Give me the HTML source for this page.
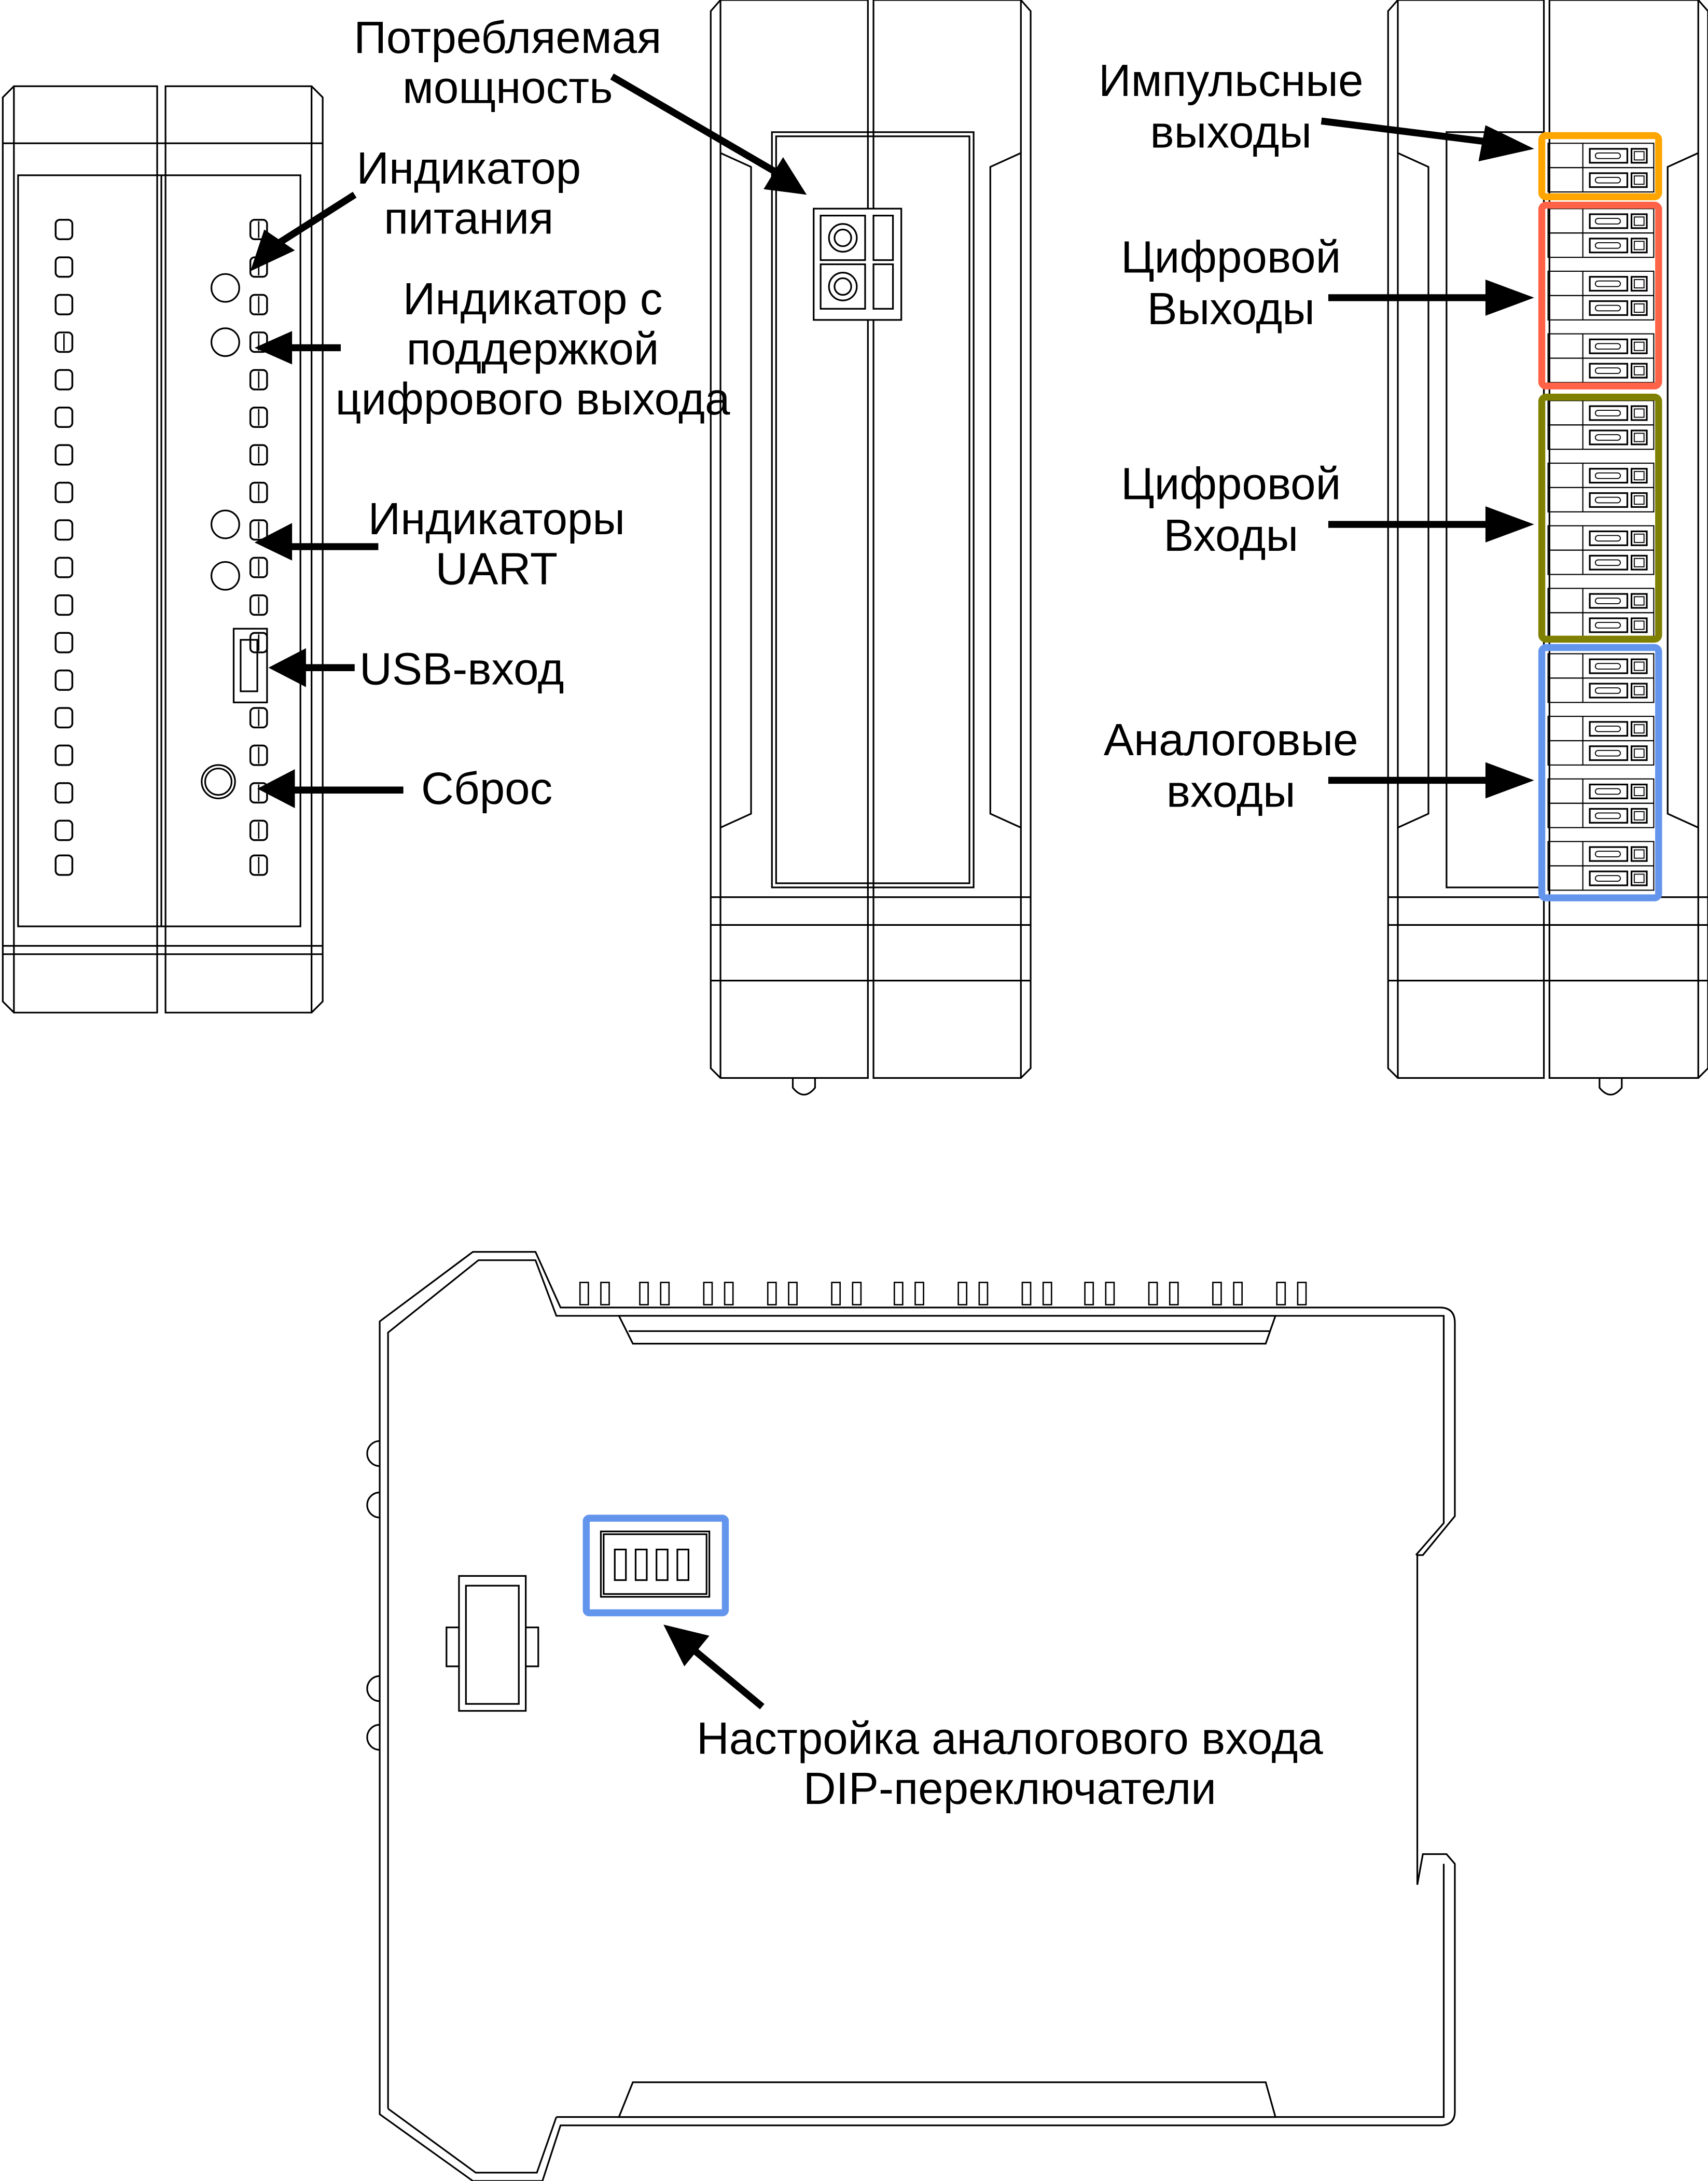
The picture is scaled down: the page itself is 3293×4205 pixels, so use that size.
<!DOCTYPE html>
<html><head><meta charset="utf-8"><style>
html,body{margin:0;padding:0;background:#fff;}
svg{display:block}
text{font-family:"Liberation Sans","DejaVu Sans",sans-serif;fill:#000;}
</style></head><body>
<svg width="3293" height="4205" viewBox="0 0 1228 1568" preserveAspectRatio="none" xmlns="http://www.w3.org/2000/svg">
<defs>
<g id="led"><rect x="0" y="0" width="12" height="14" rx="3" fill="none" stroke="#000" stroke-width="1.3"/></g>
<g id="led2"><rect x="0" y="0" width="12" height="14" rx="3" fill="none" stroke="#000" stroke-width="1.3"/><line x1="6" y1="1" x2="6" y2="13" stroke="#000" stroke-width="1"/></g>
<g id="term">
  <rect x="0" y="0" width="76" height="17.5" fill="none" stroke="#000" stroke-width="0.8"/>
  <line x1="25" y1="0" x2="25" y2="17.5" stroke="#000" stroke-width="0.8"/>
  <rect x="30" y="4" width="27" height="10" fill="none" stroke="#000" stroke-width="1.2"/>
  <rect x="34" y="7" width="18" height="4" rx="2" fill="none" stroke="#000" stroke-width="0.7"/>
  <rect x="60" y="4" width="11" height="10" fill="none" stroke="#000" stroke-width="1.2"/>
  <rect x="62" y="6" width="7" height="6" fill="none" stroke="#000" stroke-width="0.7"/>
</g>
</defs>
<rect width="1228" height="1568" fill="#fff"/>

<!-- ============ LEFT DEVICE ============ -->
<g fill="none" stroke="#000" stroke-width="1.2">
  <path d="M2 70 L10 62 L113 62 L113 728 L10 728 L2 720 Z"/>
  <path d="M119 62 L224 62 L232 70 L232 720 L224 728 L119 728 Z"/>
  <line x1="2" y1="103" x2="232" y2="103"/>
  <line x1="10" y1="62" x2="10" y2="728"/>
  <line x1="224" y1="62" x2="224" y2="728"/>
  <rect x="13" y="126" width="203" height="540"/>
  <line x1="116" y1="126" x2="116" y2="666"/>
  <line x1="2" y1="680" x2="232" y2="680"/>
  <line x1="2" y1="686" x2="232" y2="686"/>
  <circle cx="162" cy="207" r="10"/>
  <circle cx="162" cy="246" r="10"/>
  <circle cx="162" cy="377" r="10"/>
  <circle cx="162" cy="414" r="10"/>
  <circle cx="157" cy="562" r="12"/>
  <circle cx="157" cy="562" r="9.5"/>
  <rect x="168" y="452" width="24" height="53"/>
  <rect x="173" y="460" width="12" height="37"/>
</g>
<g>
  <use href="#led" x="40" y="158"/><use href="#led" x="40" y="185"/><use href="#led" x="40" y="212"/>
  <use href="#led2" x="40" y="239"/><use href="#led" x="40" y="266"/><use href="#led" x="40" y="293"/>
  <use href="#led" x="40" y="320"/><use href="#led" x="40" y="347"/><use href="#led" x="40" y="374"/>
  <use href="#led" x="40" y="401"/><use href="#led" x="40" y="428"/><use href="#led" x="40" y="455"/>
  <use href="#led" x="40" y="482"/><use href="#led" x="40" y="509"/><use href="#led" x="40" y="536"/>
  <use href="#led" x="40" y="563"/><use href="#led" x="40" y="590"/><use href="#led" x="40" y="615"/>
  <use href="#led2" x="180" y="158"/><use href="#led2" x="180" y="185"/><use href="#led2" x="180" y="212"/>
  <use href="#led2" x="180" y="239"/><use href="#led2" x="180" y="266"/><use href="#led2" x="180" y="293"/>
  <use href="#led2" x="180" y="320"/><use href="#led2" x="180" y="347"/><use href="#led2" x="180" y="374"/>
  <use href="#led2" x="180" y="401"/><use href="#led2" x="180" y="428"/><use href="#led2" x="180" y="455"/>
  <use href="#led2" x="180" y="509"/><use href="#led2" x="180" y="536"/>
  <use href="#led2" x="180" y="563"/><use href="#led2" x="180" y="590"/><use href="#led2" x="180" y="615"/>
</g>
<!-- left arrows -->
<g stroke="#000" stroke-width="5" fill="#000">
  <line x1="255" y1="140" x2="200" y2="175"/>
  <polygon points="180,195 190,165 212,180" stroke="none"/>
  <line x1="245" y1="250" x2="205" y2="250"/>
  <polygon points="183,250 210,238 210,262" stroke="none"/>
  <line x1="272" y1="393" x2="205" y2="393"/>
  <polygon points="183,390 210,376 210,403" stroke="none"/>
  <line x1="255" y1="480" x2="215" y2="480"/>
  <polygon points="193,480 220,466 220,494" stroke="none"/>
  <line x1="290" y1="568" x2="210" y2="568"/>
  <polygon points="185,567 212,553 212,581" stroke="none"/>
</g>
<g font-size="32.5" text-anchor="middle">
  <text x="337" y="132">Индикатор</text>
  <text x="337" y="168">питания</text>
  <text x="383" y="226">Индикатор с</text>
  <text x="383" y="262">поддержкой</text>
  <text x="383" y="298">цифрового выхода</text>
  <text x="357" y="384">Индикаторы</text>
  <text x="357" y="420">UART</text>
  <text x="332" y="492">USB-вход</text>
  <text x="350" y="578">Сброс</text>
  <text x="365" y="38">Потребляемая</text>
  <text x="365" y="74">мощность</text>
  <text x="885" y="69">Импульсные</text>
  <text x="885" y="106">выходы</text>
  <text x="885" y="196">Цифровой</text>
  <text x="885" y="233">Выходы</text>
  <text x="885" y="359">Цифровой</text>
  <text x="885" y="396">Входы</text>
  <text x="885" y="543">Аналоговые</text>
  <text x="885" y="580">входы</text>
  <text x="726" y="1261">Настройка аналогового входа</text>
  <text x="726" y="1297">DIP-переключатели</text>
</g>

<!-- ============ MIDDLE DEVICE ============ -->
<g fill="none" stroke="#000" stroke-width="1.2">
  <path d="M511 8 L518 0 L624 0 L624 775 L518 775 L511 768 Z"/>
  <path d="M628 0 L734 0 L741 8 L741 768 L734 775 L628 775 Z"/>
  <line x1="518" y1="0" x2="518" y2="775"/>
  <line x1="734" y1="0" x2="734" y2="775"/>
  <path d="M518 110 L540 120 L540 585 L518 595"/>
  <path d="M734 110 L712 120 L712 585 L734 595"/>
  <rect x="555" y="95" width="145" height="543"/>
  <rect x="558" y="98" width="139" height="537"/>
  <line x1="511" y1="645" x2="741" y2="645"/>
  <line x1="511" y1="665" x2="741" y2="665"/>
  <line x1="511" y1="705" x2="741" y2="705"/>
  <path d="M570 775 L570 782 Q578 792 586 782 L586 775"/>
  <rect x="585" y="150" width="63" height="80" fill="#fff"/>
  <rect x="590" y="155" width="32" height="32"/>
  <rect x="590" y="190" width="32" height="32"/>
  <circle cx="606" cy="171" r="10"/><circle cx="606" cy="171" r="6"/>
  <circle cx="606" cy="206" r="10"/><circle cx="606" cy="206" r="6"/>
  <rect x="628" y="155" width="14" height="32"/>
  <rect x="628" y="190" width="14" height="32"/>
</g>
<g stroke="#000" stroke-width="5" fill="#000">
  <line x1="440" y1="55" x2="560" y2="125"/>
  <polygon points="580,140 549,136 563,113" stroke="none"/>
</g>

<!-- ============ RIGHT DEVICE ============ -->
<g fill="none" stroke="#000" stroke-width="1.2">
  <path d="M998 8 L1005 0 L1110 0 L1110 775 L1005 775 L998 768 Z"/>
  <path d="M1114 0 L1221 0 L1228 8 L1228 768 L1221 775 L1114 775 Z"/>
  <line x1="1005" y1="0" x2="1005" y2="775"/>
  <line x1="1221" y1="0" x2="1221" y2="775"/>
  <path d="M1005 110 L1027 120 L1027 585 L1005 595"/>
  <path d="M1221 110 L1199 120 L1199 585 L1221 595"/>
  <rect x="1040" y="95" width="70" height="543"/>
  <line x1="998" y1="645" x2="1228" y2="645"/>
  <line x1="998" y1="665" x2="1228" y2="665"/>
  <line x1="998" y1="705" x2="1228" y2="705"/>
  <path d="M1150 775 L1150 782 Q1158 792 1166 782 L1166 775"/>
</g>
<g>
  <use href="#term" x="1113" y="103"/><use href="#term" x="1113" y="120.5"/>
  <use href="#term" x="1113" y="150"/><use href="#term" x="1113" y="167.5"/>
  <use href="#term" x="1113" y="195"/><use href="#term" x="1113" y="212.5"/>
  <use href="#term" x="1113" y="240"/><use href="#term" x="1113" y="257.5"/>
  <use href="#term" x="1113" y="288"/><use href="#term" x="1113" y="305.5"/>
  <use href="#term" x="1113" y="333"/><use href="#term" x="1113" y="350.5"/>
  <use href="#term" x="1113" y="378"/><use href="#term" x="1113" y="395.5"/>
  <use href="#term" x="1113" y="423"/><use href="#term" x="1113" y="440.5"/>
  <use href="#term" x="1113" y="470"/><use href="#term" x="1113" y="487.5"/>
  <use href="#term" x="1113" y="515"/><use href="#term" x="1113" y="532.5"/>
  <use href="#term" x="1113" y="560"/><use href="#term" x="1113" y="577.5"/>
  <use href="#term" x="1113" y="605"/><use href="#term" x="1113" y="622.5"/>
</g>
<g fill="none" stroke-width="5">
  <rect x="1108.5" y="97.5" width="84" height="44" rx="3" stroke="#FFA500"/>
  <rect x="1108.5" y="147.5" width="84" height="130" rx="3" stroke="#FF6347"/>
  <rect x="1108.5" y="285.5" width="84" height="174" rx="3" stroke="#808000"/>
  <rect x="1108.5" y="465.5" width="84" height="180" rx="3" stroke="#6495ED"/>
</g>
<g stroke="#000" stroke-width="5" fill="#000">
  <line x1="950" y1="87" x2="1070" y2="102"/>
  <polygon points="1103,107 1063,116 1068,90" stroke="none"/>
  <line x1="955" y1="214" x2="1070" y2="214"/>
  <polygon points="1103,214 1068,201 1068,227" stroke="none"/>
  <line x1="955" y1="377" x2="1070" y2="377"/>
  <polygon points="1103,377 1068,364 1068,390" stroke="none"/>
  <line x1="955" y1="561" x2="1070" y2="561"/>
  <polygon points="1103,561 1068,548 1068,574" stroke="none"/>
</g>

<!-- ============ BOTTOM DEVICE ============ -->
<g fill="none" stroke="#000" stroke-width="1.2">
  <path d="M273 1520 L273 950 L340 900 L385 900 L403 940 L1035 940 Q1046 940 1046 951 L1046 1090 L1023 1118 L1019 1118 L1019 1355 L1023 1333 L1040 1333 L1046 1340 L1046 1518 Q1046 1528 1035 1528 L403 1528 L390 1568 L340 1568 Z"/>
  <path d="M279 1516 L279 958 L344 906 L385 906 L400 946 L1038 946 L1038 1095 L1018 1118"/>
  <path d="M1038 1340 L1038 1522 L400 1522"/>
  <path d="M279 1516 L342 1562 L386 1562 L400 1522"/>
  <path d="M455 966 L910 966 L917 946 L445 946 Z"/>
  <line x1="452" y1="957" x2="913" y2="957"/>
  <path d="M455 1497 L910 1497 L917 1522 L445 1522 Z"/>
  <rect x="330" y="1133" width="48" height="97"/>
  <rect x="335" y="1140" width="38" height="85"/>
  <path d="M330 1170 L321 1170 L321 1198 L330 1198"/>
  <path d="M378 1170 L387 1170 L387 1198 L378 1198"/>
  <path d="M273 1036 A9 9 0 0 0 273 1054"/>
  <path d="M273 1073 A9 9 0 0 0 273 1091"/>
  <path d="M273 1205 A9 9 0 0 0 273 1223"/>
  <path d="M273 1240 A9 9 0 0 0 273 1258"/>
  <rect x="432" y="1101" width="78" height="47"/>
  <rect x="434" y="1103" width="74" height="43"/>
  <rect x="442" y="1114" width="8" height="22"/>
  <rect x="457" y="1114" width="8" height="22"/>
  <rect x="472" y="1114" width="8" height="22"/>
  <rect x="487" y="1114" width="8" height="22"/>
</g>
<g fill="none" stroke="#000" stroke-width="1">
  <rect x="417" y="922" width="6" height="16"/><rect x="432" y="922" width="6" height="16"/>
  <rect x="460" y="922" width="6" height="16"/><rect x="475" y="922" width="6" height="16"/>
  <rect x="506" y="922" width="6" height="16"/><rect x="521" y="922" width="6" height="16"/>
  <rect x="552" y="922" width="6" height="16"/><rect x="567" y="922" width="6" height="16"/>
  <rect x="598" y="922" width="6" height="16"/><rect x="613" y="922" width="6" height="16"/>
  <rect x="643" y="922" width="6" height="16"/><rect x="658" y="922" width="6" height="16"/>
  <rect x="689" y="922" width="6" height="16"/><rect x="704" y="922" width="6" height="16"/>
  <rect x="735" y="922" width="6" height="16"/><rect x="750" y="922" width="6" height="16"/>
  <rect x="780" y="922" width="6" height="16"/><rect x="795" y="922" width="6" height="16"/>
  <rect x="826" y="922" width="6" height="16"/><rect x="841" y="922" width="6" height="16"/>
  <rect x="872" y="922" width="6" height="16"/><rect x="887" y="922" width="6" height="16"/>
  <rect x="918" y="922" width="6" height="16"/><rect x="933" y="922" width="6" height="16"/>
</g>
<rect x="421.5" y="1091.5" width="100" height="68" rx="2" fill="none" stroke="#6495ED" stroke-width="5"/>
<g stroke="#000" stroke-width="5" fill="#000">
  <line x1="548" y1="1227" x2="495" y2="1183"/>
  <polygon points="477,1168 510,1176 492,1198" stroke="none"/>
</g>
</svg>
</body></html>
